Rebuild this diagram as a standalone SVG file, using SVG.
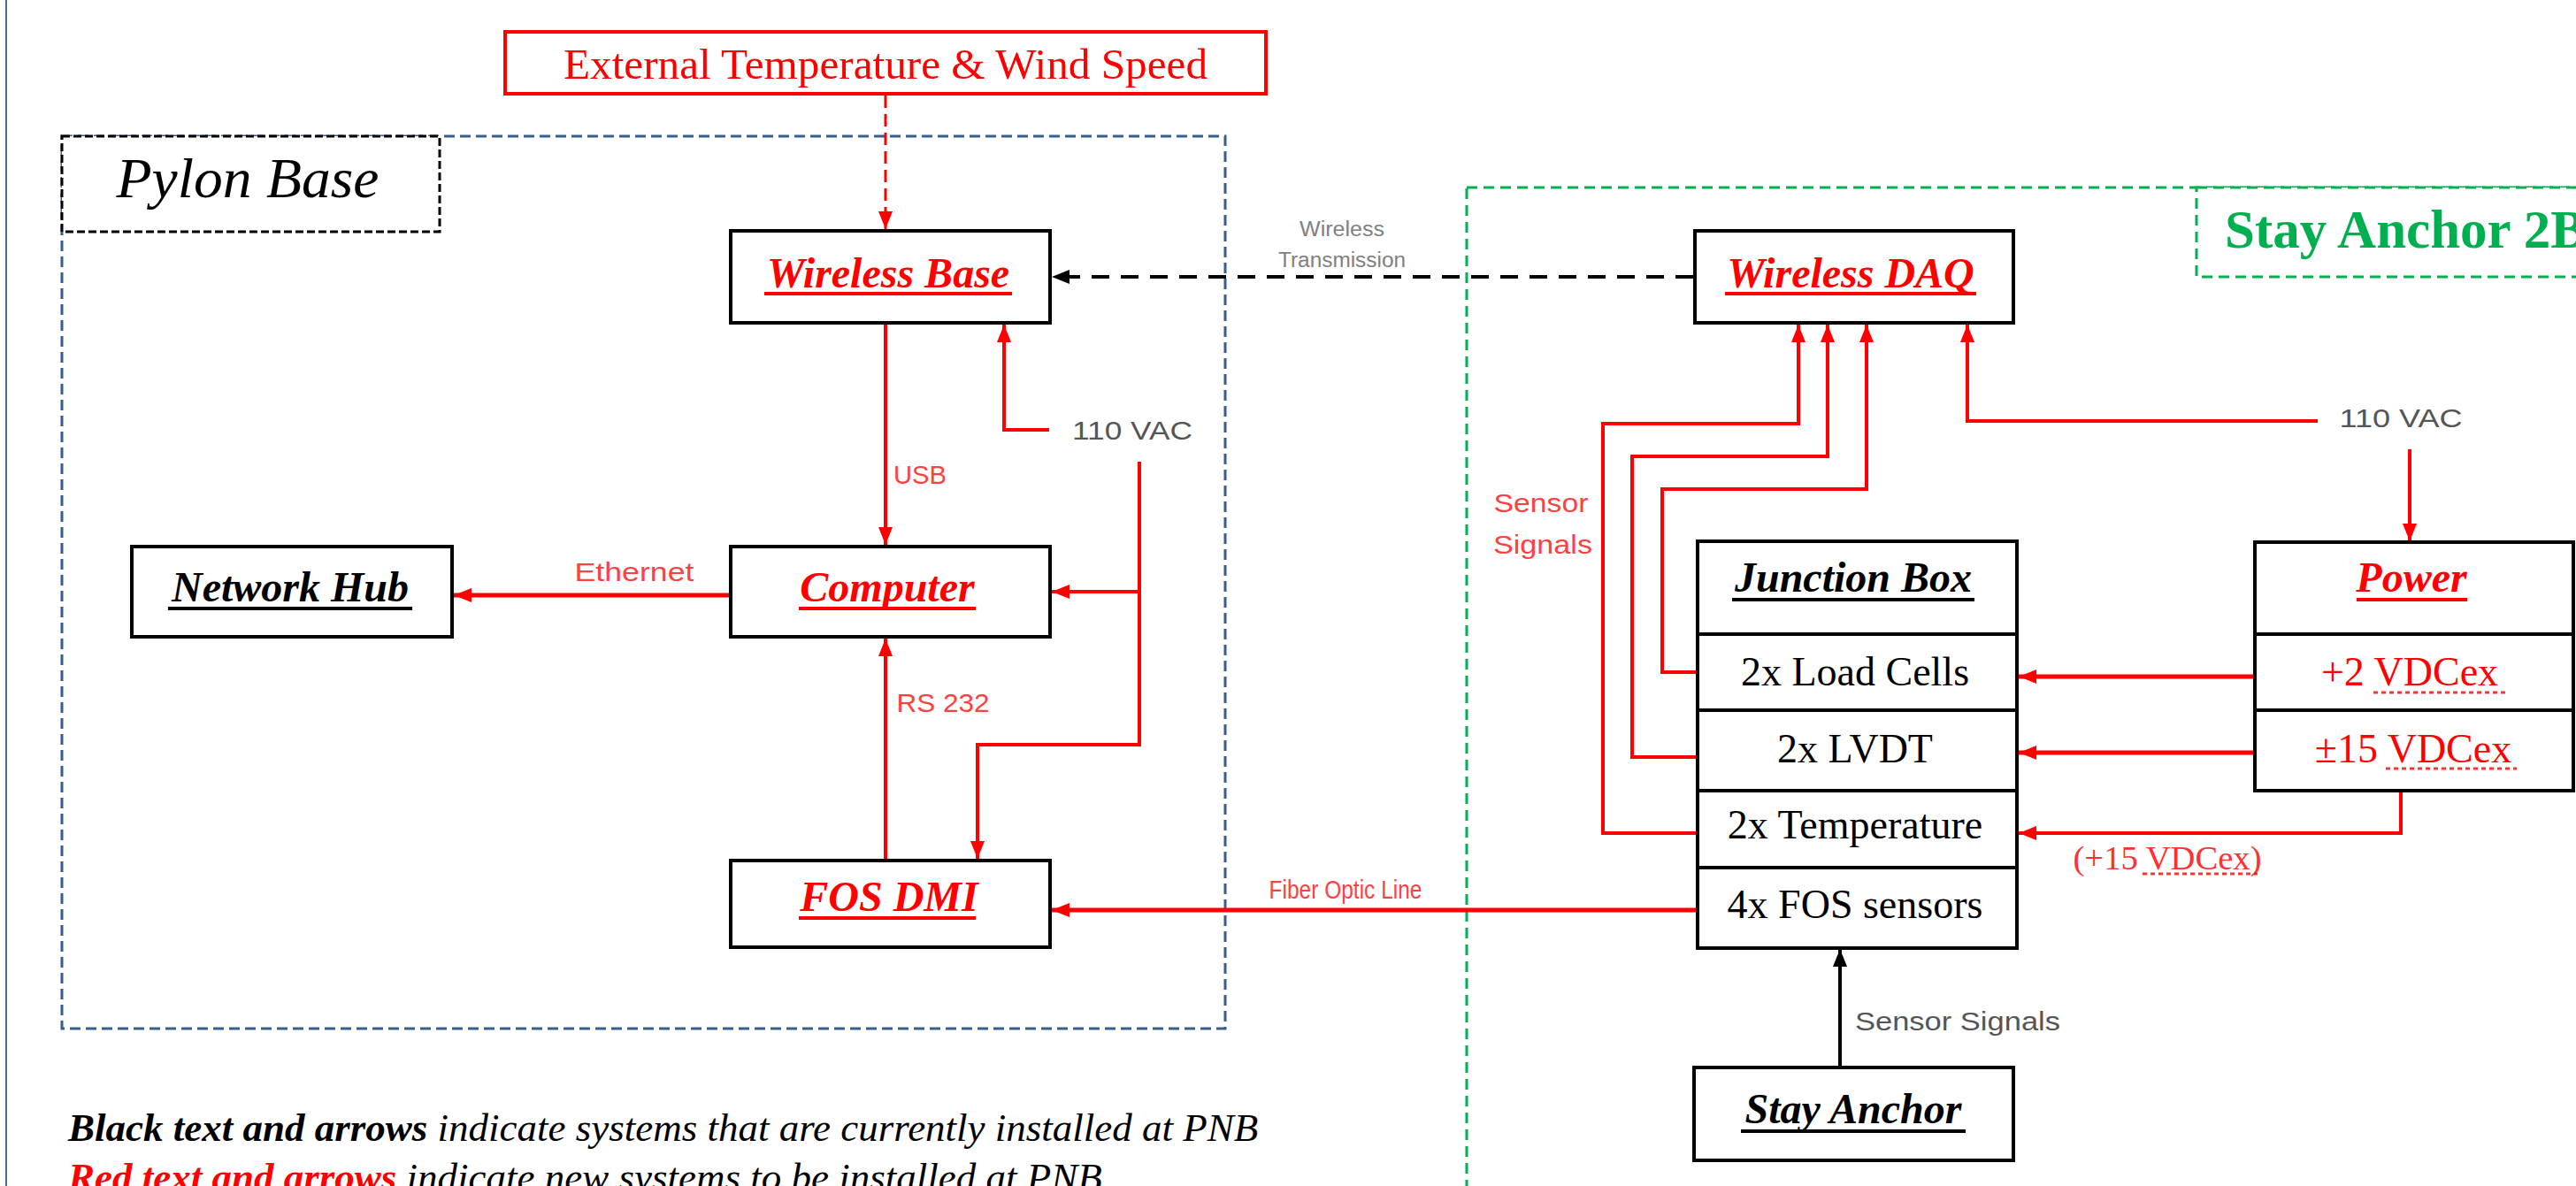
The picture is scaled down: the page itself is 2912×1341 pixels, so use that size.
<svg xmlns="http://www.w3.org/2000/svg" width="2912" height="1341" viewBox="0 0 2912 1341">
<style>
.bg{fill:#fff}
.box{fill:#fff;stroke:#000;stroke-width:4}
.sep{stroke:#000;stroke-width:4}
.title{font-family:"Liberation Serif",serif;font-size:48px;font-style:italic;font-weight:bold;text-anchor:middle}
.row{font-family:"Liberation Serif",serif;font-size:46px;text-anchor:middle}
.red{fill:#ff0000}
.blk{fill:#000}
.ulr{stroke:#ff0000;stroke-width:4}
.ulk{stroke:#000;stroke-width:4}
.squig{stroke:#ff0000;stroke-width:3;stroke-dasharray:5 4;opacity:.8}
.wire{fill:none;stroke:#ff0000;stroke-width:4}
.thick{stroke-width:5}
.wk{fill:none;stroke:#000;stroke-width:4}
.lbl{font-family:"Liberation Sans",sans-serif;font-size:30px;text-anchor:middle}
.lred{fill:#ff4040}
.lgray{fill:#555}
.small{font-size:23px;fill:#808080}
</style>
<defs>
<marker id="arR" viewBox="0 0 20 16" refX="20" refY="8" markerWidth="20" markerHeight="16" markerUnits="userSpaceOnUse" orient="auto"><path d="M0,0L20,8L0,16z" fill="#ff0000"/></marker>
<marker id="arK" viewBox="0 0 20 16" refX="20" refY="8" markerWidth="20" markerHeight="16" markerUnits="userSpaceOnUse" orient="auto"><path d="M0,0L20,8L0,16z" fill="#000"/></marker>
</defs>
<rect class="bg" x="0" y="0" width="2912" height="1341"/>
<line x1="7" y1="0" x2="7" y2="1341" stroke="#4a6a94" stroke-width="2"/>

<g id="pylon-base">
<rect x="70" y="154" width="1315" height="1009" fill="none" stroke="#365f91" stroke-width="3" stroke-dasharray="12 6"/>
<rect x="70" y="154" width="427" height="108" fill="#fff" stroke="#000" stroke-width="3" stroke-dasharray="9 4"/>
<text x="280" y="223" font-family="Liberation Serif, serif" font-style="italic" font-size="63" text-anchor="middle" textLength="297" lengthAdjust="spacingAndGlyphs">Pylon Base</text>
</g>

<g id="stay-anchor-2">
<rect x="1658" y="212" width="1400" height="1200" fill="none" stroke="#00b050" stroke-width="3" stroke-dasharray="12 7"/>
<rect x="2483" y="212" width="500" height="101" fill="#fff" stroke="#00b050" stroke-width="3" stroke-dasharray="12 7"/>
<text x="2515" y="280" font-family="Liberation Serif, serif" font-weight="bold" font-size="61" fill="#00b050">Stay Anchor 2B</text>
</g>

<g id="connectors">
<path d="M1001,108 V259" fill="none" stroke="#ff0000" stroke-width="3" stroke-dasharray="14 7" marker-end="url(#arR)"/>
<path d="M1914,313 H1189" class="wk" stroke-dasharray="20 13" marker-end="url(#arK)"/>
<path d="M1001,367 V616" class="wire" marker-end="url(#arR)"/>
<path d="M1186,486 H1135 V367" class="wire" marker-end="url(#arR)"/>
<path d="M1288,522 V842 H1105 V971" class="wire" marker-end="url(#arR)"/>
<path d="M1288,669 H1189" class="wire" marker-end="url(#arR)"/>
<path d="M824,673 H513" class="wire thick" marker-end="url(#arR)"/>
<path d="M1001,971 V722" class="wire" marker-end="url(#arR)"/>
<path d="M1918,1029 H1189" class="wire thick" marker-end="url(#arR)"/>
<path d="M1918,942 H1812 V479 H2033 V367" class="wire" marker-end="url(#arR)"/>
<path d="M1918,856 H1845 V516 H2066 V367" class="wire" marker-end="url(#arR)"/>
<path d="M1918,760 H1879 V553 H2110 V367" class="wire" marker-end="url(#arR)"/>
<path d="M2620,476 H2224 V367" class="wire" marker-end="url(#arR)"/>
<path d="M2724,508 V612" class="wire" marker-end="url(#arR)"/>
<path d="M2547,765 H2282" class="wire thick" marker-end="url(#arR)"/>
<path d="M2547,851 H2282" class="wire thick" marker-end="url(#arR)"/>
<path d="M2714,894 V942 H2282" class="wire" marker-end="url(#arR)"/>
<path d="M2080,1205 V1073" class="wk" stroke-width="3" marker-end="url(#arK)"/>
<text class="lbl small" x="1517" y="267" textLength="96" lengthAdjust="spacingAndGlyphs">Wireless</text>
<text class="lbl small" x="1517" y="302" textLength="144" lengthAdjust="spacingAndGlyphs">Transmission</text>
<text class="lbl lred" x="1040" y="547" textLength="60" lengthAdjust="spacingAndGlyphs">USB</text>
<text class="lbl lred" x="717" y="657" textLength="135" lengthAdjust="spacingAndGlyphs">Ethernet</text>
<text class="lbl lred" x="1066" y="805" textLength="105" lengthAdjust="spacingAndGlyphs">RS 232</text>
<text class="lbl lgray" x="1280" y="497" textLength="136" lengthAdjust="spacingAndGlyphs">110 VAC</text>
<text class="lbl lgray" x="2714" y="483" textLength="139" lengthAdjust="spacingAndGlyphs">110 VAC</text>
<text class="lbl lred" x="1521" y="1016" font-size="22" textLength="173" lengthAdjust="spacingAndGlyphs">Fiber Optic Line</text>
<text class="lbl lred" x="1742" y="579" textLength="107" lengthAdjust="spacingAndGlyphs">Sensor</text>
<text class="lbl lred" x="1744" y="626" textLength="112" lengthAdjust="spacingAndGlyphs">Signals</text>
<text class="lbl lgray" x="2213" y="1165" fill="#606060" textLength="232" lengthAdjust="spacingAndGlyphs">Sensor Signals</text>
<text x="2450" y="983" font-family="Liberation Serif, serif" font-size="38" fill="#ff3030" text-anchor="middle" textLength="213" lengthAdjust="spacingAndGlyphs">(+15 VDCex)</text>
<line class="squig" x1="2422" y1="988" x2="2552" y2="988"/>
</g>

<g id="external-temp">
<rect x="571" y="36" width="860" height="70" fill="#fff" stroke="#ff0000" stroke-width="4"/>
<text x="1001" y="89" font-family="Liberation Serif, serif" font-size="48" fill="#ff0000" text-anchor="middle" textLength="728" lengthAdjust="spacingAndGlyphs">External Temperature &amp; Wind Speed</text>
</g>

<g id="wireless-base">
<rect class="box" x="826" y="261" width="361" height="104"/>
<text class="title red" x="1004" y="325">Wireless Base</text>
<line class="ulr" x1="864" y1="332" x2="1144" y2="332"/>
</g>

<g id="computer">
<rect class="box" x="826" y="618" width="361" height="102"/>
<text class="title red" x="1003" y="680">Computer</text>
<line class="ulr" x1="903" y1="688" x2="1103" y2="688"/>
</g>

<g id="network-hub">
<rect class="box" x="149" y="618" width="362" height="102"/>
<text class="title blk" x="328" y="680">Network Hub</text>
<line class="ulk" x1="190" y1="688" x2="466" y2="688"/>
</g>

<g id="fos-dmi">
<rect class="box" x="826" y="973" width="361" height="98"/>
<text class="title red" x="1005" y="1030">FOS DMI</text>
<line class="ulr" x1="903" y1="1038" x2="1103" y2="1038"/>
</g>

<g id="wireless-daq">
<rect class="box" x="1916" y="261" width="360" height="104"/>
<text class="title red" x="2092" y="325">Wireless DAQ</text>
<line class="ulr" x1="1950" y1="332" x2="2234" y2="332"/>
</g>

<g id="junction-box">
<rect class="box" x="1919" y="612" width="361" height="460"/>
<line class="sep" x1="1919" y1="717" x2="2280" y2="717"/>
<line class="sep" x1="1919" y1="803" x2="2280" y2="803"/>
<line class="sep" x1="1919" y1="894" x2="2280" y2="894"/>
<line class="sep" x1="1919" y1="981" x2="2280" y2="981"/>
<text class="title blk" x="2095" y="669">Junction Box</text>
<line class="ulk" x1="1958" y1="678" x2="2232" y2="678"/>
<text class="row" x="2097" y="775">2x Load Cells</text>
<text class="row" x="2097" y="862">2x LVDT</text>
<text class="row" x="2097" y="948">2x Temperature</text>
<text class="row" x="2097" y="1038">4x FOS sensors</text>
</g>

<g id="power">
<rect class="box" x="2549" y="613" width="360" height="281"/>
<line class="sep" x1="2549" y1="717" x2="2909" y2="717"/>
<line class="sep" x1="2549" y1="803" x2="2909" y2="803"/>
<text class="title red" x="2726" y="669">Power</text>
<line class="ulr" x1="2664" y1="678" x2="2789" y2="678"/>
<text class="row red" x="2724" y="775">+2 VDCex</text>
<line class="squig" x1="2683" y1="783" x2="2832" y2="783"/>
<text class="row red" x="2728" y="862">±15 VDCex</text>
<line class="squig" x1="2697" y1="869" x2="2845" y2="869"/>
</g>

<g id="stay-anchor">
<rect class="box" x="1915" y="1207" width="361" height="105"/>
<text class="title blk" x="2095" y="1270">Stay Anchor</text>
<line class="ulk" x1="1968" y1="1279" x2="2222" y2="1279"/>
</g>

<g id="legend" font-family="Liberation Serif, serif" font-style="italic" font-size="45">
<text x="77" y="1290"><tspan font-weight="bold">Black text and arrows</tspan> indicate systems that are currently installed at PNB</text>
<text x="77" y="1346"><tspan font-weight="bold" fill="#ff0000">Red text and arrows</tspan> indicate new systems to be installed at PNB</text>
</g>
</svg>
